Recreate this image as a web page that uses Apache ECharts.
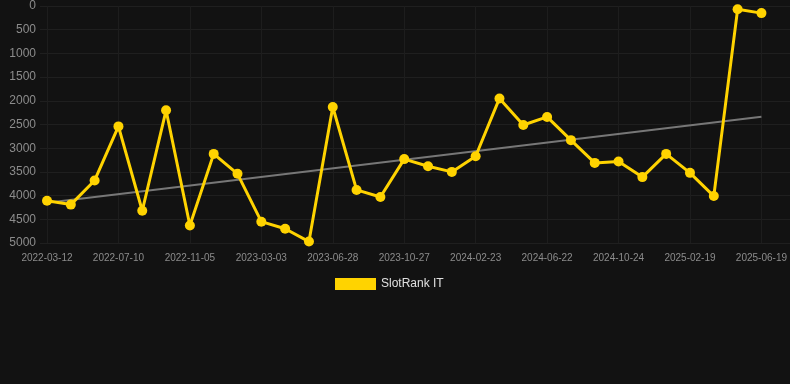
<!DOCTYPE html>
<html>
<head>
<meta charset="utf-8">
<script src="https://cdn.jsdelivr.net/npm/echarts@6/dist/echarts.min.js"></script>
<style>
  html, body { margin: 0; padding: 0; background: #121212; }
  #chart { width: 790px; height: 384px; }
</style>
</head>
<body>
<div id="chart"></div>
<script>
// dates of each rank sample (~40 days apart)
const dates = [
  "2022-03-12", "2022-04-21", "2022-05-31", "2022-07-10", "2022-08-18", "2022-09-27",
  "2022-11-05", "2022-12-14", "2023-01-22", "2023-03-03", "2023-04-11", "2023-05-20",
  "2023-06-28", "2023-08-07", "2023-09-17", "2023-10-27", "2023-12-05", "2024-01-14",
  "2024-02-23", "2024-04-03", "2024-05-13", "2024-06-22", "2024-08-02", "2024-09-12",
  "2024-10-24", "2024-12-01", "2025-01-10", "2025-02-19", "2025-03-31", "2025-05-10",
  "2025-06-19"
];
const rankValues = [
  4110, 4190, 3680, 2540, 4320, 2200, 4630, 3120, 3540, 4550, 4700,
  4970, 2130, 3880, 4030, 3230, 3380, 3500, 3170, 1950, 2510, 2340,
  2830, 3310, 3280, 3610, 3120, 3520, 4010, 70, 150
];
// trend line start / end
const trendValues = [4150, 2335];
const seriesName = "SlotRank IT";

const chart = echarts.init(document.getElementById("chart"));

const option = {
  backgroundColor: "#121212",
  textStyle: { fontFamily: "Liberation Sans, Arial, sans-serif" },
  animation: false,
  grid: [
    { left: 47, right: 28, top: 6, bottom: 141 },
    { left: 40, right: 0, top: 6, bottom: 141, z: 0 }
  ],
  legend: {
    data: [seriesName],
    top: 273,
    left: 330,
    itemWidth: 41,
    itemHeight: 12,
    icon: "rect",
    textStyle: { color: "#e0e0e0", fontSize: 12 }
  },
  xAxis: [
    {
      type: "category",
      gridIndex: 0,
      data: dates,
      boundaryGap: false,
      axisLine: { show: false },
      axisTick: { show: false },
      axisLabel: { interval: 2, color: "#8c8c8c", fontSize: 10, margin: 10 },
      splitLine: { show: true, interval: 2, lineStyle: { color: "#1d1d1d", width: 1 } }
    },
    {
      type: "value",
      gridIndex: 1,
      show: false
    }
  ],
  yAxis: [
    {
      type: "value",
      gridIndex: 0,
      inverse: true,
      min: 0,
      max: 5000,
      interval: 500,
      axisLine: { show: false },
      axisTick: { show: false },
      axisLabel: { color: "#8c8c8c", fontSize: 12, margin: 11, formatter: (v) => String(v) },
      splitLine: { show: false }
    },
    {
      type: "value",
      gridIndex: 1,
      inverse: true,
      min: 0,
      max: 5000,
      interval: 500,
      axisLine: { show: false },
      axisTick: { show: false },
      axisLabel: { show: false },
      splitLine: { lineStyle: { color: "#1f1f1f", width: 1 } }
    }
  ],
  series: [
    {
      name: "trend",
      type: "line",
      xAxisIndex: 0,
      yAxisIndex: 0,
      data: [[dates[0], trendValues[0]], [dates[dates.length - 1], trendValues[1]]],
      symbol: "none",
      lineStyle: { color: "#777777", width: 2 },
      z: 1,
      silent: true
    },
    {
      name: seriesName,
      type: "line",
      xAxisIndex: 0,
      yAxisIndex: 0,
      data: rankValues,
      symbol: "circle",
      symbolSize: 10,
      itemStyle: { color: "#FFD300" },
      lineStyle: { color: "#FFD300", width: 3 },
      z: 3
    }
  ]
};

chart.setOption(option);
window.addEventListener("resize", () => chart.resize());
</script>
</body>
</html>
